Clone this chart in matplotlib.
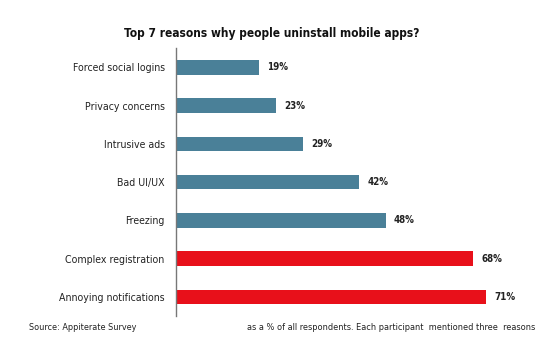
import matplotlib as mpl
mpl.use('Agg')
import matplotlib.pyplot as plt

# Survey results, top to bottom as shown
reasons = ['Forced social logins', 'Privacy concerns', 'Intrusive ads', 'Bad UI/UX',
           'Freezing', 'Complex registration', 'Annoying notifications']
percent = [19, 23, 29, 42, 48, 68, 71]
highlight = [False, False, False, False, False, True, True]

teal = '#4a8098'
red = '#e8101a'
plt.rcParams['font.family'] = ['DejaVu Sans']
plt.rcParams['font.stretch'] = 'condensed'

fig = plt.figure(figsize=(5.53, 3.54), dpi=100)
ax = fig.add_axes([0.318, 0.107, 0.652, 0.757])

ypos = list(range(len(reasons)))
colors = [red if h else teal for h in highlight]
ax.barh(ypos, percent, height=0.38, color=colors)

for y, v in zip(ypos, percent):
    ax.text(v + 1.9, y, '{}%'.format(v), va='center', ha='left',
            fontsize=7, fontweight='bold', color='#222222')

ax.set_yticks(ypos)
ax.set_yticklabels(reasons, fontsize=7.6, color='#222222')
ax.set_ylim(len(reasons) - 0.5, -0.5)
ax.set_xlim(0, 82.5)
ax.set_xticks([])
ax.tick_params(axis='y', length=0, pad=8)
for side in ['top', 'right', 'bottom']:
    ax.spines[side].set_visible(False)
ax.spines['left'].set_color('#777777')
ax.spines['left'].set_linewidth(1)

fig.text(0.492, 0.905, 'Top 7 reasons why people uninstall mobile apps?',
         ha='center', va='center', fontsize=8.6, fontweight='bold', color='#111111')
fig.text(0.052, 0.075, 'Source: Appiterate Survey', ha='left', va='center',
         fontsize=6.5, color='#222222')
fig.text(0.968, 0.075, 'as a % of all respondents. Each participant  mentioned three  reasons',
         ha='right', va='center', fontsize=6.6, color='#222222')

fig.savefig('out.png', dpi=100)
